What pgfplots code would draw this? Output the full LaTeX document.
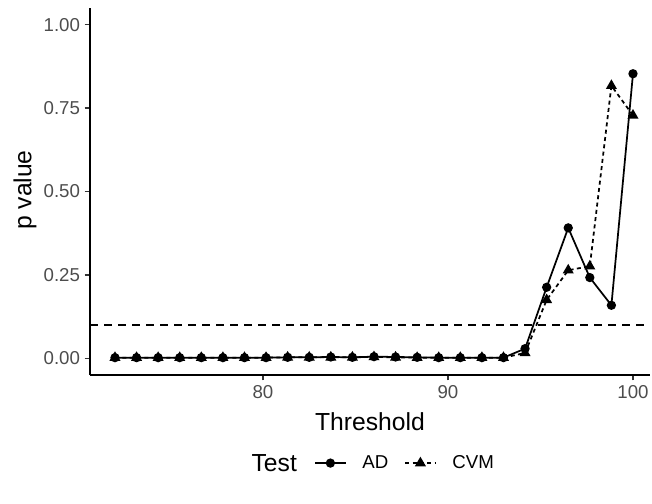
\documentclass[border=0pt]{standalone}
\usepackage{fontspec}
\setmainfont{Liberation Sans}
\usepackage{pgfplots}
\pgfplotsset{compat=1.18}
\definecolor{ticklab}{HTML}{4D4D4D}
\definecolor{tickcol}{HTML}{333333}
\begin{document}
\begin{tikzpicture}
\path[use as bounding box] (0,0) rectangle (489pt,377.25pt);
\begin{axis}[
  at={(67.5pt,96pt)}, anchor=south west,
  scale only axis, width=420pt, height=275.25pt,
  xmin=70.65, xmax=100.92, ymin=-0.05, ymax=1.05,
  axis x line*=bottom, axis y line*=left,
  axis line style={-, line width=1.1pt, black},
  xtick={80,90,100}, ytick={0,0.25,0.5,0.75,1},
  yticklabel style={/pgf/number format/.cd, fixed, fixed zerofill, precision=2},
  /pgf/number format/assume math mode=true,
  tick align=outside, major tick length=4pt,
  tick style={line width=1pt, tickcol},
  ticklabel style={font=\fontsize{14}{16}\selectfont, text=ticklab},
  xlabel={Threshold}, ylabel={p value},
  label style={font=\fontsize{18.5}{20}\selectfont},
  xlabel style={at={(axis description cs:0.5,-0.128)}, anchor=center},
  ylabel style={at={(axis description cs:-0.116,0.504)}, anchor=center, rotate=0},
  clip=false,
  legend style={at={(axis description cs:0.393,-0.24)}, anchor=west, draw=none, fill=none,
    legend columns=-1, font=\fontsize{14}{16}\selectfont,
    /tikz/every odd column/.append style={column sep=10pt},
    /tikz/every even column/.append style={column sep=10pt}},
  legend image code/.code={\draw[mark repeat=2,mark phase=2] plot coordinates {(0cm,0cm)(0.4cm,0cm)(0.8cm,0cm)};},
]
\addplot[black, line width=1.3pt, mark=*, mark size=2.8pt, mark options={solid}] coordinates {
(72,0.002) (73.1667,0.002) (74.3333,0.002) (75.5,0.002) (76.6667,0.002)
(77.8333,0.002) (79,0.002) (80.1667,0.002) (81.3333,0.003) (82.5,0.003)
(83.6667,0.004) (84.8333,0.003) (86,0.005) (87.1667,0.004) (88.3333,0.003)
(89.5,0.002) (90.6667,0.002) (91.8333,0.002) (93,0.002) (94.1667,0.029)
(95.3333,0.213) (96.5,0.391) (97.6667,0.242) (98.8333,0.159) (100,0.853)
};
\addlegendentry{AD}
\addplot[black, line width=1.3pt, dash pattern=on 3pt off 2.5pt, mark=triangle*, mark size=3.5pt, mark options={solid}] coordinates {
(72,0.002) (73.1667,0.002) (74.3333,0.002) (75.5,0.002) (76.6667,0.002)
(77.8333,0.002) (79,0.002) (80.1667,0.002) (81.3333,0.003) (82.5,0.003)
(83.6667,0.003) (84.8333,0.003) (86,0.004) (87.1667,0.003) (88.3333,0.002)
(89.5,0.002) (90.6667,0.002) (91.8333,0.002) (93,0.002) (94.1667,0.016)
(95.3333,0.175) (96.5,0.264) (97.6667,0.276) (98.8333,0.817) (100,0.728)
};
\addlegendentry{CVM}
\addplot[black, line width=1.3pt, dash pattern=on 6pt off 4.5pt, forget plot] coordinates {(70.65,0.1) (100.92,0.1)};
\node[font=\fontsize{18.5}{20}\selectfont, anchor=center] at (axis description cs:0.329,-0.24) {Test};
\end{axis}
\end{tikzpicture}
\end{document}
